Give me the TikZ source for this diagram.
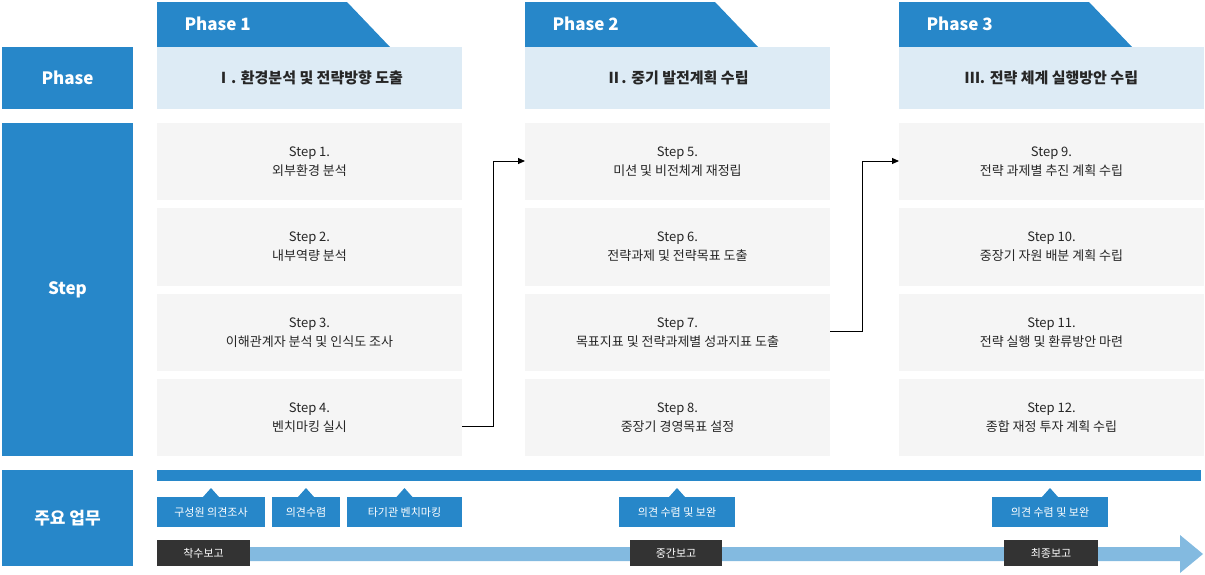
\documentclass[tikz,border=0pt]{standalone}
\usepackage{fontspec}
\setmainfont{Noto Sans CJK KR}
\usetikzlibrary{arrows.meta}
\definecolor{mblue}{HTML}{2787C9}
\definecolor{lblue}{HTML}{DDEBF5}
\definecolor{sgray}{HTML}{F5F5F5}
\definecolor{barb}{HTML}{83BAE0}
\definecolor{dark}{HTML}{333333}
\tikzset{
 side/.style={fill=mblue,text=white,font=\fontsize{17}{20}\selectfont\bfseries},
 stepbox/.style={fill=sgray,align=center,font=\fontsize{13}{19}\selectfont,text=black!85},
 phbox/.style={fill=lblue,font=\fontsize{15}{18}\selectfont\bfseries,text=black!85},
 tabtxt/.style={text=white,font=\fontsize{17}{20}\selectfont\bfseries,anchor=west},
 call/.style={fill=mblue,text=white,font=\fontsize{11}{13}\selectfont},
 rep/.style={fill=dark,text=white,font=\fontsize{11}{13}\selectfont},
 conn/.style={line width=1pt,-{Triangle[length=7pt,width=6pt]}}
}
\begin{document}
\begin{tikzpicture}[x=1pt,y=-1pt]
\useasboundingbox (0,0) rectangle (1205,574);
% left column
\path[side] (2,47) rectangle (133,109) node[midway] (lp) {Phase};
\path[side] (2,123) rectangle (133,456) node[midway] (ls) {Step};
\path[side] (2,470) rectangle (133,566) node[midway] (lw) {주요 업무};
% phases
\foreach \x/\n/\t [count=\i] in {157/1/Ⅰ. 환경분석 및 전략방향 도출,525/2/Ⅱ. 중기 발전계획 수립,899/3/Ⅲ. 전략 체계 실행방안 수립}{
 \fill[mblue] (\x,2) -- (\x+190,2) -- (\x+233,47) -- (\x,47) -- cycle;
 \node[tabtxt] (tab\i) at (\x+24,24) {Phase \n};
 \path[phbox] (\x,47) rectangle (\x+305,109) node[midway] (ph\i) {\t};
}
% steps
\foreach \x/\a/\b/\c/\d/\s [count=\i from 0] in {
 157/외부환경 분석/내부역량 분석/이해관계자 분석 및 인식도 조사/벤치마킹 실시/1,
 525/미션 및 비전체계 재정립/전략과제 및 전략목표 도출/목표지표 및 전략과제별 성과지표 도출/중장기 경영목표 설정/5,
 899/전략 과제별 추진 계획 수립/중장기 자원 배분 계획 수립/전략 실행 및 환류방안 마련/종합 재정 투자 계획 수립/9}{
 \pgfmathtruncatemacro{\sa}{\s}\pgfmathtruncatemacro{\sb}{\s+1}\pgfmathtruncatemacro{\sc}{\s+2}\pgfmathtruncatemacro{\sd}{\s+3}
 \path[stepbox] (\x,123) rectangle (\x+305,200) node[midway] (s\sa) {Step \sa.\\\a};
 \path[stepbox] (\x,208) rectangle (\x+305,286) node[midway] (s\sb) {Step \sb.\\\b};
 \path[stepbox] (\x,294) rectangle (\x+305,371) node[midway] (s\sc) {Step \sc.\\\c};
 \path[stepbox] (\x,379) rectangle (\x+305,456) node[midway] (s\sd) {Step \sd.\\\d};
}
\coordinate (e4) at (462,426); \coordinate (t5) at (525,161);
\coordinate (e7) at (830,331); \coordinate (t9) at (899,161);
\draw[conn] (e4) -- (493,426) -- (493,161) -- (t5);
\draw[conn] (e7) -- (862,331) -- (862,161) -- (t9);
% bottom
\fill[mblue] (157,470) rectangle (1201,481);
\foreach \l/\r/\t/\nm in {157/265/구성원 의견조사/c1,272/340/의견수렴/c2,347/462/타기관 벤치마킹/c3,619/735/의견 수렴 및 보완/c4,992/1108/의견 수렴 및 보완/c5}{
 \fill[mblue] ({(\l+\r)/2-8},497) -- ({(\l+\r)/2},488) -- ({(\l+\r)/2+8},497) -- cycle;
 \path[call] (\l,497) rectangle (\r,527) node[midway] (\nm) {\t};
}
\fill[barb] (157,547) -- (1180,547) -- (1180,535) -- (1203,554) -- (1180,573) -- (1180,561) -- (157,561) -- cycle;
\path[rep] (157,540) rectangle (250,566) node[midway] (r1) {착수보고};
\path[rep] (630,540) rectangle (722,566) node[midway] (r2) {중간보고};
\path[rep] (1004,540) rectangle (1098,566) node[midway] (r3) {최종보고};
\end{tikzpicture}
\end{document}
